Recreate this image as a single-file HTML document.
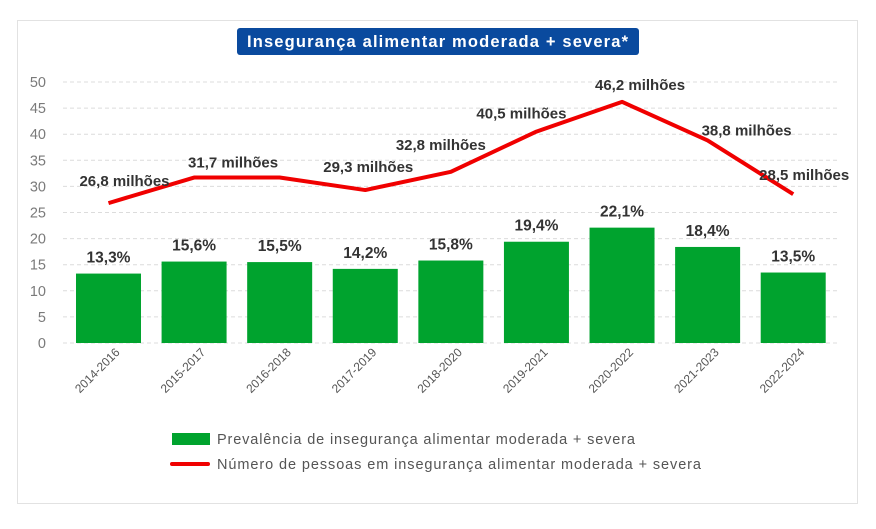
<!DOCTYPE html>
<html><head><meta charset="utf-8">
<style>
html,body{margin:0;padding:0;background:#fff;}
body{width:876px;height:524px;overflow:hidden;font-family:"Liberation Sans",sans-serif;}
</style></head>
<body>
<svg id="chart" width="876" height="524" viewBox="0 0 876 524" xmlns="http://www.w3.org/2000/svg" font-family="Liberation Sans, sans-serif">
  <rect x="17.5" y="20.5" width="840" height="483" fill="#fff" stroke="#e2e2e2" stroke-width="1"/>
  <g>
    <rect x="237" y="28" width="402" height="27" rx="3" fill="#0a4a9e"/>
    <text x="247" y="47" fill="#fff" font-size="16.5" font-weight="bold" textLength="381" lengthAdjust="spacing">Insegurança alimentar moderada + severa*</text>
  </g>
  <g id="grid"></g>
  <g id="yaxis"></g>
  <g id="bars"></g>
  <g id="xaxis"></g>
  <g id="line"></g>
  <g>
    <g>
      <rect x="172" y="433" width="38" height="12" fill="#00a32e"/>
      <text x="217" y="444" font-size="14.5" fill="#555" textLength="418" lengthAdjust="spacing">Prevalência de insegurança alimentar moderada + severa</text>
    </g>
    <g>
      <line x1="172" y1="464" x2="208" y2="464" stroke="#f00000" stroke-width="4" stroke-linecap="round"/>
      <text x="217" y="469" font-size="14.5" fill="#555" textLength="484" lengthAdjust="spacing">Número de pessoas em insegurança alimentar moderada + severa</text>
    </g>
  </g>
</svg>
<script>
const categories = ["2014-2016","2015-2017","2016-2018","2017-2019","2018-2020","2019-2021","2020-2022","2021-2023","2022-2024"];
const prevalence = [13.3,15.6,15.5,14.2,15.8,19.4,22.1,18.4,13.5];
const people = [26.8,31.7,31.7,29.3,32.8,40.5,46.2,38.8,28.5];
const peopleLabels = ["26,8 milhões","31,7 milhões","","29,3 milhões","32,8 milhões","40,5 milhões","46,2 milhões","38,8 milhões","28,5 milhões"];
const yTicks = [0,5,10,15,20,25,30,35,40,45,50];
const labelDx = [16,39,0,3,-10,-15,18,39,11];
const labelDy = [-17,-10,0,-18,-22,-13,-12,-5,-14];

const NS="http://www.w3.org/2000/svg";
const x0=65.7, x1=836, y0=343, yTop=82, yMax=50, barW=65;
const band=(x1-x0)/categories.length;
const X=i=>x0+band*(i+0.5);
const Y=v=>y0-(v/yMax)*(y0-yTop);
function mk(tag,attrs,parent){const e=document.createElementNS(NS,tag);for(const k in attrs)e.setAttribute(k,attrs[k]);parent.appendChild(e);return e;}
const grid=document.getElementById('grid'),yax=document.getElementById('yaxis'),bars=document.getElementById('bars'),xax=document.getElementById('xaxis'),lineG=document.getElementById('line');
yTicks.forEach(t=>{
  const l=mk('line',{x1:63,x2:838,y1:Y(t),y2:Y(t),stroke:'#dcdcdc','stroke-dasharray':'4 3'},grid);
  
  
  const tx=mk('text',{x:46,y:Y(t)+5,'text-anchor':'end','font-size':'14.5',fill:'#7a7a7a'},yax);
  tx.textContent=t;
  
  
});
categories.forEach((c,i)=>{
  const r=mk('rect',{x:X(i)-barW/2,y:Y(prevalence[i]),width:barW,height:y0-Y(prevalence[i]),fill:'#00a32e'},bars);
  
  
  const v=mk('text',{x:X(i),y:Y(prevalence[i])-11,'text-anchor':'middle','font-size':'15.5','font-weight':'bold',fill:'#333'},bars);
  v.textContent=prevalence[i].toFixed(1).replace('.',',')+'%';
  
  
  const xl=mk('text',{x:X(i)+12,y:353,'text-anchor':'end','font-size':'12',fill:'#555',transform:`rotate(-45 ${X(i)+12} 353)`},xax);
  xl.textContent=c;
  
  
});
const pts=people.map((v,i)=>X(i)+','+Y(v)).join(' ');
const pl=mk('polyline',{points:pts,fill:'none',stroke:'#f00000','stroke-width':'4','stroke-linejoin':'round'},lineG);


people.forEach((v,i)=>{
  if(!peopleLabels[i])return;
  const t=mk('text',{x:X(i)+labelDx[i],y:Y(v)+labelDy[i],'text-anchor':'middle','font-size':'15','font-weight':'bold',fill:'#333'},lineG);
  t.textContent=peopleLabels[i];
  
  
});
</script>
</body></html>
